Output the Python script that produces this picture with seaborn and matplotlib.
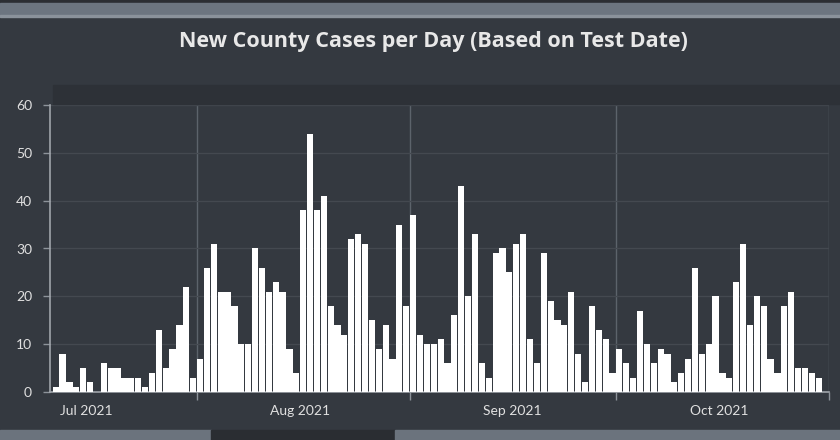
import numpy as np
import pandas as pd
import matplotlib
matplotlib.use("Agg")
import matplotlib.pyplot as plt
import matplotlib.dates as mdates
from matplotlib.patches import Rectangle
import seaborn as sns

# ---- data ----
start_date = "2021-07-11"
cases_jul = [1, 8, 2, 1, 5, 2, 0, 6, 5, 5, 3, 3, 3, 1, 4, 13, 5, 9, 14, 22, 3]
cases_aug = [7, 26, 31, 21, 21, 18, 10, 10, 30, 26, 21, 23, 21, 9, 4, 38, 54, 38, 41, 18,
             14, 12, 32, 33, 31, 15, 9, 14, 7, 35, 18]
cases_sep = [37, 12, 10, 10, 11, 6, 16, 43, 20, 33, 6, 3, 29, 30, 25, 31, 33, 11, 6, 29,
             19, 15, 14, 21, 8, 2, 18, 13, 11, 4]
cases_oct = [9, 6, 3, 17, 10, 6, 9, 8, 2, 4, 7, 26, 8, 10, 20, 4, 3, 23, 31, 14,
             20, 18, 7, 4, 18, 21, 5, 5, 4, 3, 0]
y_ticks = [0, 10, 20, 30, 40, 50, 60]
title = "New County Cases per Day (Based on Test Date)"

cases = cases_jul + cases_aug + cases_sep + cases_oct
dates = pd.date_range(start_date, periods=len(cases), freq="D")
df = pd.DataFrame({"date": dates, "cases": cases})
df["xpos"] = mdates.date2num(df["date"]) + 0.5  # bar spans the whole day

BG = "#343940"
sns.set_style("dark")
plt.rcParams["font.family"] = ["Lato", "DejaVu Sans"]

fig = plt.figure(figsize=(8.4, 4.4), dpi=100, facecolor=BG)

# decorative dashboard frame pieces
fig.patches.append(Rectangle((0, 1 - 3 / 440), 1, 3 / 440, transform=fig.transFigure,
                             color="#2b2e33", zorder=0))
fig.patches.append(Rectangle((0, 1 - 15 / 440), 1, 12 / 440, transform=fig.transFigure,
                             color="#6c7580", zorder=0))
fig.patches.append(Rectangle((0, 1 - 17 / 440), 1, 2 / 440, transform=fig.transFigure,
                             color="#8a929b", zorder=0))
fig.patches.append(Rectangle((53 / 840, 1 - 104 / 440), 787 / 840, 19 / 440,
                             transform=fig.transFigure, color="#2d3137", zorder=0))
fig.patches.append(Rectangle((0, 0), 211 / 840, 10 / 440, transform=fig.transFigure,
                             color="#6b737d", zorder=0))
fig.patches.append(Rectangle((211 / 840, 0), 184 / 840, 10 / 440, transform=fig.transFigure,
                             color="#2a2d32", zorder=0))
fig.patches.append(Rectangle((395 / 840, 0), 445 / 840, 10 / 440, transform=fig.transFigure,
                             color="#6b737d", zorder=0))

ax = fig.add_axes([50 / 840, 1 - 392 / 440, (829 - 50) / 840, (392 - 105) / 440])
ax.set_facecolor(BG)

sns.barplot(data=df, x="xpos", y="cases", native_scale=True, width=0.9,
            color="white", saturation=1, errorbar=None, linewidth=0, ax=ax, zorder=3)

x0 = mdates.date2num(pd.Timestamp(start_date)) - 0.33
x1 = mdates.date2num(pd.Timestamp("2021-11-01"))
ax.set_xlim(x0, x1)
ax.set_ylim(0, 60)
ax.set_yticks(y_ticks)

ax.xaxis.set_major_locator(mdates.MonthLocator())
ax.xaxis.set_major_formatter(plt.NullFormatter())
ax.xaxis.set_minor_locator(mdates.MonthLocator(bymonthday=16))
ax.xaxis.set_minor_formatter(mdates.DateFormatter("%b %Y"))

ax.tick_params(axis="x", which="major", length=6, width=1, color="#8d939a", bottom=True)
ax.tick_params(axis="x", which="minor", length=0, pad=9, labelsize=10, labelcolor="#e0e0e0")
ax.tick_params(axis="y", length=5, width=1, color="#8d939a", left=True, pad=8,
               labelsize=10, labelcolor="#e0e0e0")

ax.grid(False)
ax.grid(axis="x", which="major", color="#5c636b", linewidth=1, zorder=1)
ax.grid(axis="y", which="major", color="#444950", linewidth=0.9, zorder=1)
ax.set_axisbelow(True)

for side in ["top", "right"]:
    ax.spines[side].set_visible(False)
ax.spines["left"].set_color("#9fa4aa")
ax.spines["bottom"].set_color("#9fa4aa")
ax.spines["left"].set_linewidth(1.2)
ax.spines["bottom"].set_linewidth(1.2)
ax.set_xlabel("")
ax.set_ylabel("")

fig.text(433 / 840, 1 - 41 / 440, title, ha="center", va="center", fontsize=15.5,
         fontweight="bold", color="#e8e8e8", family=["Open Sans", "DejaVu Sans"])

fig.savefig("out.png", dpi=100, facecolor=BG)
